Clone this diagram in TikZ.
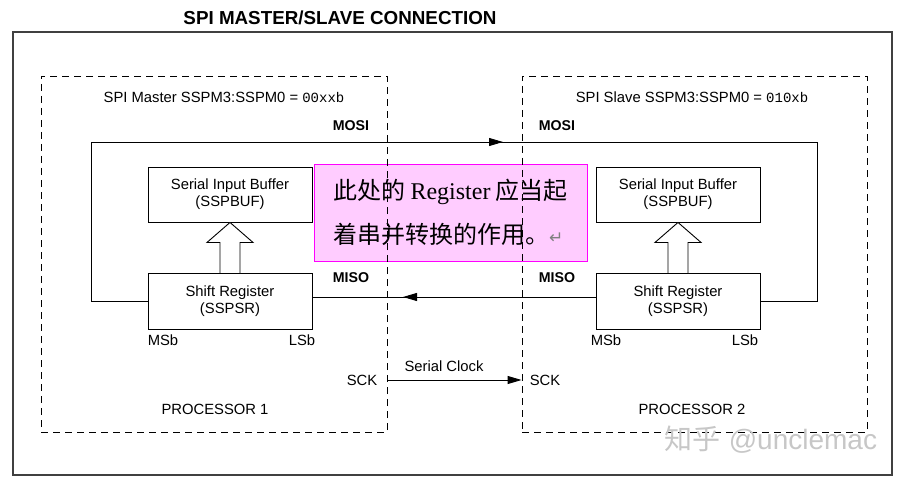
\documentclass[tikz,border=0pt]{standalone}
\usepackage{fontspec}
\setmainfont{Liberation Sans}
\setmonofont{Liberation Mono}
\newfontfamily\cjkfont{Noto Sans CJK SC}
\newfontfamily\notefont{Liberation Serif}
\newfontfamily\symfont{DejaVu Sans}
\usetikzlibrary{arrows.meta}
\definecolor{notefill}{HTML}{FFCCFF}
\definecolor{noteline}{HTML}{FF00FF}

\begin{document}
\begin{tikzpicture}[
    x=1pt, y=-1pt,
    every node/.style={font=\fontsize{14.8}{17}\selectfont},
    unitbox/.style={draw, line width=0.9pt, minimum width=164pt, minimum height=55pt,
                    inner sep=0pt, align=center, font=\fontsize{14.8}{17}\selectfont},
    procbox/.style={draw, line width=0.9pt, dash pattern=on 7pt off 5pt,
                    minimum height=356pt, inner sep=0pt},
    pinlabel/.style={font=\fontsize{14.2}{16}\selectfont\bfseries},
    wire/.style={line width=0.9pt},
    wiretip/.style={wire, -{Triangle[length=14pt, width=8pt]}},
    widearrow/.style={draw, line width=0.9pt, fill=white},
]

\useasboundingbox (0,0) rectangle (901,481);

% Frame and title
\node[font=\fontsize{18.8}{22}\selectfont\bfseries] (title) at (340,18) {SPI MASTER/SLAVE CONNECTION};
\draw[line width=1.2pt, black!75] (13,32) rectangle (892,475);

% Note pasted over the middle
\node[fill=notefill, draw=noteline, line width=0.8pt, minimum width=273pt, minimum height=97pt,
      align=left, font=\fontsize{24}{44}\selectfont\cjkfont] (note) at (450.5,212.5)
  {此处的 {\notefont Register} 应当起\\
   着串并转换的作用。{\symfont\color{gray}\fontsize{17}{17}\selectfont ↵}};

% Processor outlines
\node[procbox, minimum width=346pt] (proc1) at (214,254) {};
\node[procbox, minimum width=345pt] (proc2) at (694.5,254) {};

\node (mode1) at (224,97) {SPI Master SSPM3:SSPM0 = {\ttfamily\fontsize{14}{16}\selectfont 00xxb}};
\node (mode2) at (692,97) {SPI Slave SSPM3:SSPM0 = {\ttfamily\fontsize{14}{16}\selectfont 010xb}};

\node (cpu1) at (215,409) {PROCESSOR 1};
\node (cpu2) at (692,409) {PROCESSOR 2};

% Master side
\node[unitbox] (buf1) at (230,194.5) {Serial Input Buffer\\(SSPBUF)};
\node[unitbox, minimum height=56pt] (sreg1) at (230,301) {Shift Register\\(SSPSR)};
\draw[widearrow] (buf1.south) -- ++(23,20) -- ++(-13,0) -- ++(0,31) -- ++(-20,0)
    -- ++(0,-31) -- ++(-13,0) -- cycle;
\node (msb1) at (163,340) {MSb};
\node (lsb1) at (302,340) {LSb};

% Slave side
\node[unitbox] (buf2) at (678,194.5) {Serial Input Buffer\\(SSPBUF)};
\node[unitbox, minimum height=56pt] (sreg2) at (678,301) {Shift Register\\(SSPSR)};
\draw[widearrow] (buf2.south) -- ++(23,20) -- ++(-13,0) -- ++(0,31) -- ++(-20,0)
    -- ++(0,-31) -- ++(-13,0) -- cycle;
\node (msb2) at (606,340) {MSb};
\node (lsb2) at (745,340) {LSb};

% MOSI loop
\node[pinlabel] (mosi1) at (351,126) {MOSI};
\node[pinlabel] (mosi2) at (557,126) {MOSI};
\coordinate (mosiL) at (91,142);
\coordinate (mosiR) at (817,142);
\coordinate (mosiTip) at (503,142);
\draw[wire] (sreg1.west) -| (mosiL) -- (mosiR) |- (sreg2.east);
\draw[wiretip] (mosiL) -- (mosiTip);

% MISO
\node[pinlabel] (miso1) at (351,278) {MISO};
\node[pinlabel] (miso2) at (557,278) {MISO};
\coordinate (misoTip) at (403,297);
\draw[wire] ([yshift=4pt]sreg2.west) -- ([yshift=4pt]sreg1.east);
\draw[wiretip] ([yshift=4pt]sreg2.west) -- (misoTip);

% Clock
\node (sck1) at (362,380) {SCK};
\node (sck2) at (545,380) {SCK};
\node (clk) at (444,366) {Serial Clock};
\draw[wiretip] (proc1.east |- sck1) -- (proc2.west |- sck2);

% Watermark
\node[text=black!22, font=\fontsize{28}{30}\selectfont] (mark) at (771,440) {{\cjkfont 知乎} @unclemac};

\end{tikzpicture}
\end{document}
